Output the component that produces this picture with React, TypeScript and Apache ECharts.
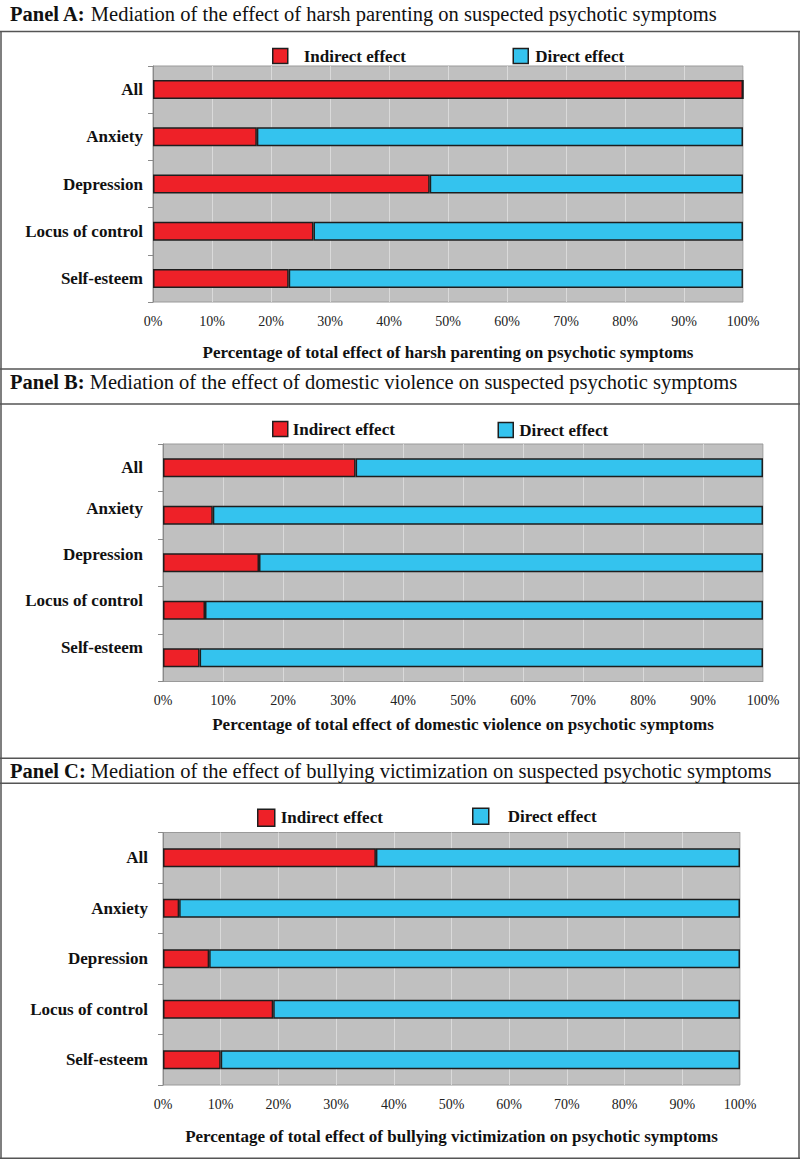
import React, { useEffect, useRef } from "react";
import * as echarts from "echarts";

const categories = ["All", "Anxiety", "Depression", "Locus of control", "Self-esteem"];
const ticksPct = [0, 10, 20, 30, 40, 50, 60, 70, 80, 90, 100];

const indirectA = [100, 17.6, 46.9, 27.2, 23.0];
const directA = [0, 82.4, 53.1, 72.8, 77.0];
const indirectB = [32.1, 8.3, 16.0, 7.0, 6.1];
const directB = [67.9, 91.7, 84.0, 93.0, 93.9];
const indirectC = [36.9, 2.8, 8.0, 19.1, 10.0];
const directC = [63.1, 97.2, 92.0, 80.9, 90.0];

const titlesBold = ["Panel A:", "Panel B:", "Panel C:"];
const titlesRest = [
  " Mediation of the effect of harsh parenting on suspected psychotic symptoms",
  " Mediation of the effect of domestic violence on suspected psychotic symptoms",
  " Mediation of the effect of bullying victimization on suspected psychotic symptoms",
];
const axisNames = [
  "Percentage of total effect of harsh parenting on psychotic symptoms",
  "Percentage of total effect of domestic violence on psychotic symptoms",
  "Percentage of total effect of bullying victimization on psychotic symptoms",
];
const legendNames = ["Indirect effect", "Direct effect"];

const FONT = "'Liberation Serif', 'Times New Roman', serif";
const RED = "#ee2128";
const BLUE = "#34c3ee";
const EDGE = "#1e1e1e";
const LINE = "#555";

export default function App() {
  const ref = useRef<HTMLDivElement>(null);
  useEffect(() => {
    document.body.style.margin = "0";
    const chart = echarts.init(ref.current!, null, { renderer: "svg" });

    const grids = [
      { left: 153, top: 66, width: 590, height: 236 },
      { left: 163, top: 444, width: 600, height: 237.5 },
      { left: 163, top: 832.5, width: 577, height: 252.5 },
    ];
    const nameGaps = [41.5, 34, 42.5];
    const labelMargins = [10, 20, 15];
    const bOffsets = [0, 14, 16, 20, 20];

    const labelBase = { fontFamily: FONT, fontWeight: "bold", fontSize: 17, color: "#111" };
    const rich: any = {};
    bOffsets.forEach((o, k) => {
      rich["o" + k] = { ...labelBase, padding: [0, 0, o, 0] };
    });

    const yAxes = grids.map((g, i) => ({
      type: "category",
      gridIndex: i,
      inverse: true,
      data: categories,
      axisLine: { show: true, lineStyle: { color: "#8a8a8a", width: 1 } },
      axisTick: { show: true, length: 5, lineStyle: { color: "#8a8a8a" } },
      axisLabel: {
        ...labelBase,
        margin: labelMargins[i],
        ...(i === 1
          ? {
              formatter: (v: string, idx: number) => "{o" + idx + "|" + v + "}",
              rich,
            }
          : {}),
      },
    }));

    const xAxes = grids.map((g, i) => ({
      type: "value",
      gridIndex: i,
      min: 0,
      max: 100,
      interval: 10,
      name: axisNames[i],
      nameLocation: "middle",
      nameGap: nameGaps[i],
      nameTextStyle: { fontFamily: FONT, fontWeight: "bold", fontSize: 17, color: "#111" },
      axisLine: { show: false },
      axisTick: { show: false },
      axisLabel: {
        fontFamily: FONT,
        fontSize: 14,
        color: "#222",
        margin: 12,
        formatter: (v: number) => (ticksPct.includes(v) ? v + "%" : ""),
      },
      splitLine: { show: true, lineStyle: { color: "#dadada", width: 1 } },
    }));

    const data = [
      [indirectA, directA],
      [indirectB, directB],
      [indirectC, directC],
    ];
    const series: any[] = [];
    data.forEach((pair, i) => {
      pair.forEach((vals, j) => {
        series.push({
          type: "bar",
          name: legendNames[j],
          xAxisIndex: i,
          yAxisIndex: i,
          stack: "panel" + i,
          barWidth: 19,
          data: vals,
          itemStyle: { color: j === 0 ? RED : BLUE, borderColor: EDGE, borderWidth: 1.5 },
          emphasis: { disabled: true },
        });
      });
    });

    const legendPos = [
      [272, 47.5, 15, 11],
      [512.5, 47.5, 15, 2],
      [272, 420.5, 15, 0],
      [497.5, 421.5, 15, 1],
      [257, 808.5, 17, 1],
      [472, 807.5, 16, 14],
    ];
    const legends = legendPos.map((p, k) => ({
      data: [legendNames[k % 2]],
      left: p[0],
      top: p[1],
      padding: 0,
      itemWidth: p[2],
      itemHeight: p[2],
      icon: "rect",
      selectedMode: false,
      itemStyle: { borderColor: EDGE, borderWidth: 1.5 },
      textStyle: {
        fontFamily: FONT,
        fontWeight: "bold",
        fontSize: 17,
        color: "#111",
        padding: [0, 0, 0, p[3]],
      },
    }));

    const titleY = [14, 381.5, 770.5];
    const hLines = [31.5, 369, 404, 758.3, 783.3, 1158.3];
    const graphic: any[] = [];
    hLines.forEach((y) =>
      graphic.push({
        type: "line",
        shape: { x1: 0, y1: y, x2: 800, y2: y },
        style: { stroke: LINE, lineWidth: 1.5 },
        silent: true,
      })
    );
    [1, 799].forEach((x) =>
      graphic.push({
        type: "line",
        shape: { x1: x, y1: 31.5, x2: x, y2: 1158.3 },
        style: { stroke: LINE, lineWidth: 1.5 },
        silent: true,
      })
    );
    titleY.forEach((y, i) =>
      graphic.push({
        type: "text",
        x: 10,
        y,
        style: {
          text: "{b|" + titlesBold[i] + "}" + "{n|" + titlesRest[i] + "}",
          verticalAlign: "middle",
          rich: {
            b: { fontFamily: FONT, fontWeight: "bold", fontSize: 20.5, fill: "#111" },
            n: { fontFamily: FONT, fontSize: 20.5, fill: "#111" },
          },
        },
        silent: true,
      })
    );

    chart.setOption({
      animation: false,
      backgroundColor: "#ffffff",
      grid: grids.map((g) => ({
        ...g,
        show: true,
        backgroundColor: "#c0c0c0",
        borderColor: "#9a9a9a",
        borderWidth: 1,
        containLabel: false,
      })),
      xAxis: xAxes,
      yAxis: yAxes,
      legend: legends,
      series,
      graphic,
    });
    return () => chart.dispose();
  }, []);
  return <div ref={ref} style={{ width: 800, height: 1160 }} />;
}
